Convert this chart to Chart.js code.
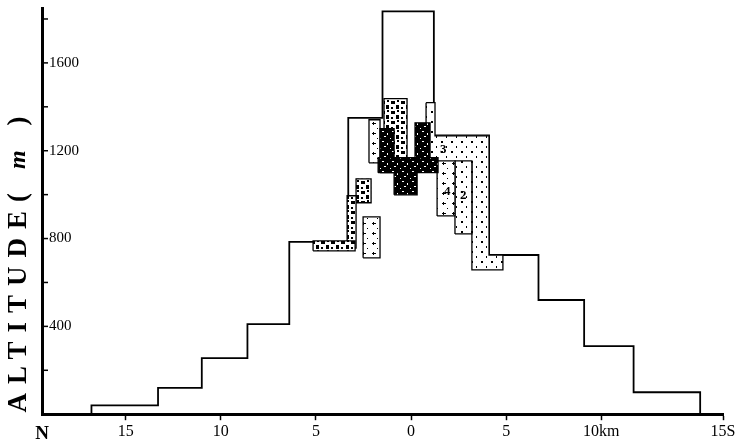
<!DOCTYPE html>
<html>
<head>
<meta charset="utf-8">
<script src="https://cdn.jsdelivr.net/npm/chart.js@4.4.1/dist/chart.umd.min.js"></script>
<style>
  html, body { margin: 0; padding: 0; background: #fff; }
  #wrap { width: 742px; height: 447px; position: relative; }
</style>
</head>
<body>
<div id="wrap"><canvas id="chart"></canvas></div>
<script>
// axis range (km, north negative) and ticks
const xMin = -19.4;
const xMax = 16.4;
const xTickKm = [xMin, -15, -10, -5, 0, 5, 10, xMax];
const xTickLabels = ['N', '15', '10', '5', '0', '5', '10km', '15S'];
const yTickValues = [200, 400, 600, 800, 1000, 1200, 1400, 1600, 1800];
const yTickLabels = [400, 800, 1200, 1600];

// stepped topographic profile: edges (km) and level of each step (m)
const profileEdgesKm = [-16.8, -13.3, -11.0, -8.6, -6.4, -3.3, -1.5, 1.2, 4.1, 6.7, 9.1, 11.7, 15.2];
const profileAltM = [40, 120, 255, 410, 785, 1350, 1835, 1270, 725, 520, 310, 100];

// rock units drawn as boxes
const unitKmFrom = [-1.73, -0.89, 0.21, -1.63, -5.15, -3.36, -2.89, -1.42, -2.52, -2.21, 1.37, 2.31];
const unitKmTo   = [ 1.42,  0.32, 1.00, -0.89, -2.94, -2.89, -2.10, -0.21, -1.63, -1.63, 2.31, 3.20];
const unitAltFrom = [1100,  999, 1168, 1100,  744,  757,  963, 1145,  712, 1145,  903,  821];
const unitAltTo   = [1168, 1131, 1327, 1300,  789,  995, 1072, 1437,  899, 1341, 1154, 1154];
const unitKind = ['dark', 'dark', 'dark', 'dark', 'blob', 'blob', 'blob', 'blob', 'plus', 'plus', 'plus', 'dots'];

// unit 3: L-shaped band along the south flank
const bandKm  = [0.79, 1.26, 1.26, 4.1, 4.1, 4.83, 4.83, 3.2, 3.2, 0.79, 0.79];
const bandAlt = [1419, 1419, 1268, 1268, 725, 725, 657, 657, 1145, 1145, 1419];

// unit numbers
const tagText = ['3', '4', '2'];
const tagKm = [1.7, 1.9, 2.75];
const tagAlt = [1205, 1015, 995];

const canvas = document.getElementById('chart');
const ctx = canvas.getContext('2d');

function makePattern(kind) {
  const c = document.createElement('canvas');
  c.width = 10; c.height = 10;
  const g = c.getContext('2d');
  g.fillStyle = '#fff';
  g.fillRect(0, 0, 10, 10);
  g.fillStyle = '#000';
  if (kind === 'dark') {
    g.fillRect(0, 0, 10, 10);
    g.fillStyle = '#fff';
    g.fillRect(2, 1, 2, 1); g.fillRect(7, 3, 1, 2); g.fillRect(4, 6, 2, 1); g.fillRect(0, 8, 1, 1);
  } else if (kind === 'blob') {
    g.fillRect(1, 1, 4, 3); g.fillRect(6, 5, 3, 4); g.fillRect(1, 7, 2, 2); g.fillRect(7, 0, 2, 2);
  } else if (kind === 'plus') {
    g.fillRect(2, 3, 4, 1); g.fillRect(3, 2, 1, 3); g.fillRect(7, 8, 1, 1);
  } else {
    g.fillRect(1, 1, 2, 2); g.fillRect(6, 6, 1, 2);
  }
  return ctx.createPattern(c, 'repeat');
}

function stepPoints(edges, alts) {
  const pts = [{ x: edges[0], y: 0 }];
  alts.forEach((a, i) => pts.push({ x: edges[i + 1], y: a }));
  pts.push({ x: edges[edges.length - 1], y: 0 });
  return pts;
}

function boxPoints(x1, x2, y1, y2) {
  return [{ x: x1, y: y1 }, { x: x2, y: y1 }, { x: x2, y: y2 }, { x: x1, y: y2 }, { x: x1, y: y1 }];
}

const datasets = unitKmFrom.map((x1, i) => ({
  data: boxPoints(x1, unitKmTo[i], unitAltFrom[i], unitAltTo[i]),
  showLine: true,
  fill: 'shape',
  backgroundColor: makePattern(unitKind[i]),
  borderColor: '#000',
  borderWidth: 1.3,
  pointRadius: 0
}));

datasets.push({
  data: bandKm.map((x, i) => ({ x: x, y: bandAlt[i] })),
  showLine: true,
  fill: 'shape',
  backgroundColor: makePattern('dots'),
  borderColor: '#000',
  borderWidth: 1.3,
  pointRadius: 0
});

datasets.push({
  data: stepPoints(profileEdgesKm, profileAltM),
  showLine: true,
  stepped: 'after',
  fill: false,
  borderColor: '#000',
  borderWidth: 1.8,
  pointRadius: 0
});

const extras = {
  id: 'extras',
  afterDraw(chart) {
    const c = chart.ctx;
    const ys = chart.scales.y;
    const xs = chart.scales.x;
    const left = chart.chartArea.left;
    c.save();
    // inward tick marks on the altitude axis
    c.strokeStyle = '#000';
    c.lineWidth = 1.5;
    yTickValues.forEach(v => {
      const py = ys.getPixelForValue(v);
      c.beginPath();
      c.moveTo(left, py);
      c.lineTo(left + 6, py);
      c.stroke();
    });
    // unit numbers
    c.fillStyle = '#000';
    c.font = 'bold 13px "Liberation Serif"';
    c.textAlign = 'center';
    c.textBaseline = 'middle';
    tagText.forEach((t, i) => {
      c.fillText(t, xs.getPixelForValue(tagKm[i]), ys.getPixelForValue(tagAlt[i]));
    });
    // axis title
    c.translate(19, 260);
    c.rotate(-Math.PI / 2);
    c.letterSpacing = '9px';
    c.textAlign = 'left';
    const fBold = 'bold 27px "Liberation Serif"';
    const fItal = 'italic bold 24px "Liberation Serif"';
    const parts = [['ALTITUDE(', fBold], [' m', fItal], [' )', fBold]];
    let total = 0;
    parts.forEach(p => { c.font = p[1]; total += c.measureText(p[0]).width; });
    let px = -total / 2;
    parts.forEach(p => {
      c.font = p[1];
      c.fillText(p[0], px, 0);
      px += c.measureText(p[0]).width;
    });
    c.restore();
  }
};

new Chart(ctx, {
  type: 'scatter',
  data: { datasets: datasets },
  options: {
    responsive: true,
    maintainAspectRatio: false,
    animation: false,
    devicePixelRatio: 1,
    layout: { padding: { left: 28, right: 19, top: 8, bottom: 0 } },
    plugins: { legend: { display: false }, tooltip: { enabled: false } },
    scales: {
      x: {
        type: 'linear',
        min: xMin,
        max: xMax,
        border: { display: true, color: '#000', width: 3 },
        grid: {
          drawOnChartArea: false,
          tickLength: 6,
          tickWidth: 1.5,
          tickColor: c => (c.index === 0 ? 'rgba(0,0,0,0)' : '#000')
        },
        afterBuildTicks: s => { s.ticks = xTickKm.map(v => ({ value: v })); },
        ticks: {
          autoSkip: false,
          maxRotation: 0,
          color: '#000',
          padding: 2,
          font: c => (c.index === 0
            ? { family: 'Liberation Serif', size: 19, weight: 'bold' }
            : { family: 'Liberation Serif', size: 16 }),
          callback: (v, i) => xTickLabels[i]
        }
      },
      y: {
        min: 0,
        max: 1850,
        border: { display: true, color: '#000', width: 3 },
        grid: { display: false, drawTicks: false },
        afterFit: s => { s.paddingTop = 0; },
        ticks: {
          stepSize: 200,
          mirror: true,
          padding: 7,
          color: '#000',
          font: { family: 'Liberation Serif', size: 15 },
          callback: v => (yTickLabels.includes(v) ? String(v) : null)
        }
      }
    }
  },
  plugins: [extras]
});
</script>
</body>
</html>
